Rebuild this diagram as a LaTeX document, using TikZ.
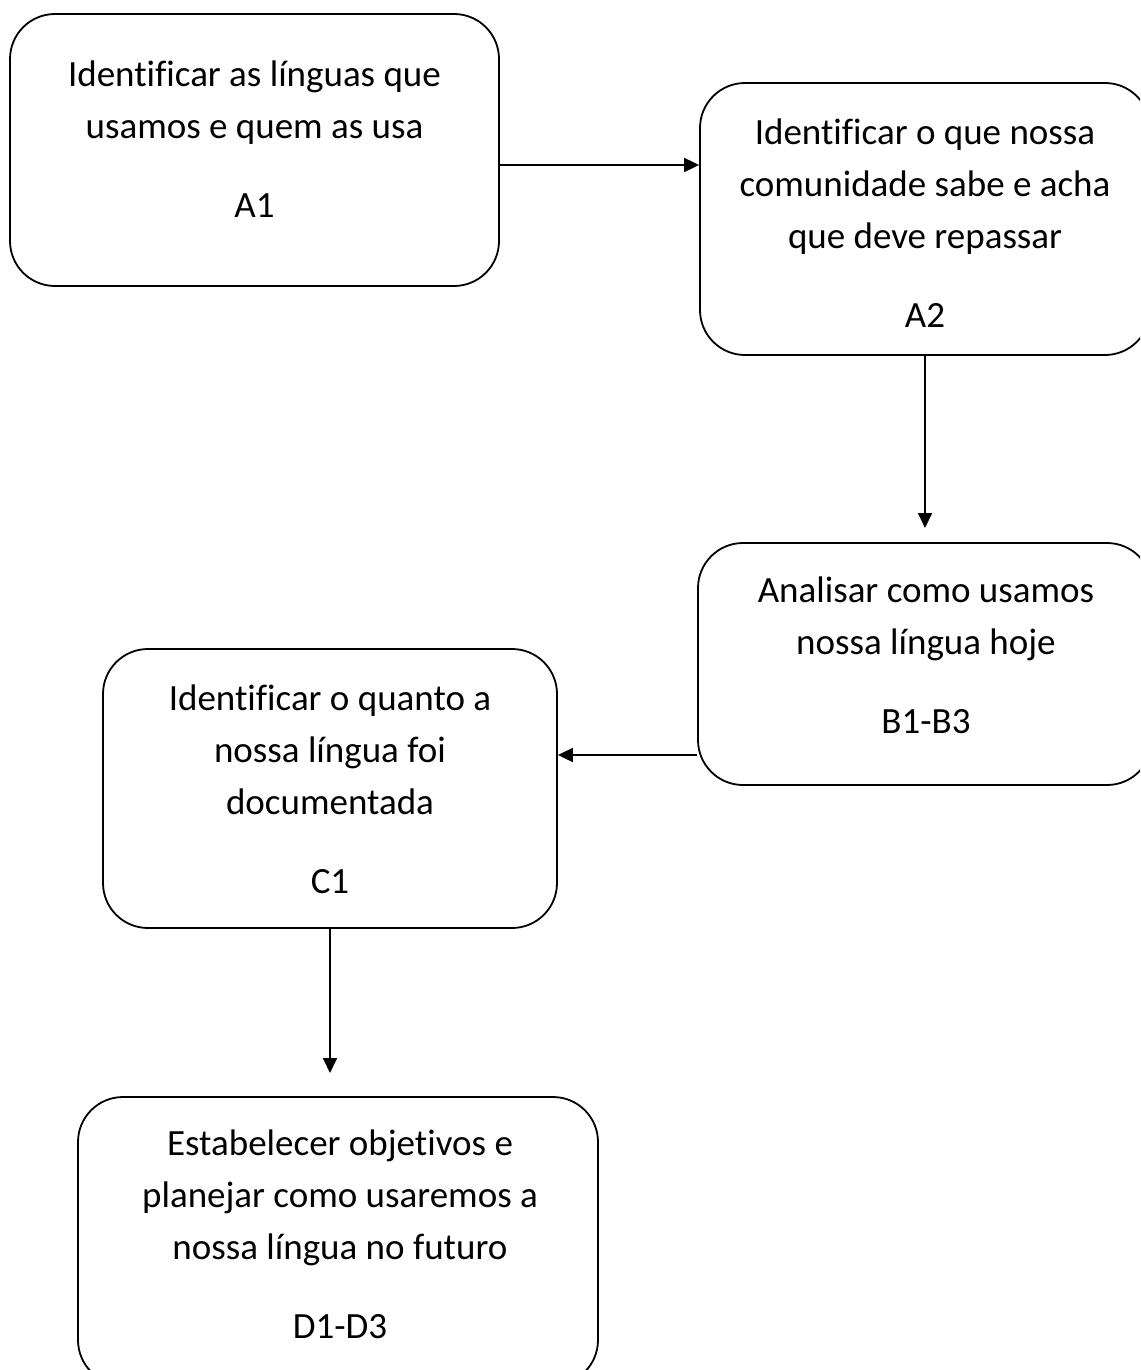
\documentclass[tikz,border=0pt]{standalone}
\usepackage{fontspec}
\setmainfont{Carlito}[Ligatures=NoCommon]
\usetikzlibrary{arrows.meta}
\begin{document}
\begin{tikzpicture}[x=1pt,y=-1pt,
  box/.style={draw,line width=1.8pt,rounded corners=45pt,inner sep=0pt},
  txt/.style={align=center,anchor=base,inner sep=0pt,font=\fontsize{37}{52}\selectfont},
  arr/.style={line width=1.8pt,-{Triangle[length=15pt,width=14pt]}}]
\useasboundingbox (0,0) rectangle (1140,1370);
\clip (0,0) rectangle (1140,1370);
\fill[white] (0,0) rectangle (1140,1370);
% boxes
\node[box,minimum width=489pt,minimum height=272pt] (A1) at (254.5,150) {};
\node[box,minimum width=450pt,minimum height=272pt] (A2) at (925,219) {};
\node[box,minimum width=454pt,minimum height=242pt] (B) at (925,664) {};
\node[box,minimum width=454pt,minimum height=279pt] (C1) at (330,788.5) {};
\node[box,minimum width=520pt,minimum height=288pt] (D) at (338,1241) {};
% texts (anchored at the baseline of the last line)
\node[txt] (tA1) at (254.5,217) {Identificar as línguas que\\usamos e quem as usa\\[27pt]A1};
\node[txt] (tA2) at (925,327) {Identificar o que nossa\\comunidade sabe e acha\\que deve repassar\\[27pt]A2};
\node[txt] (tB) at (926,733) {Analisar como usamos\\nossa língua hoje\\[27pt]B1-B3};
\node[txt] (tC1) at (330,893) {Identificar o quanto a\\nossa língua foi\\documentada\\[27pt]C1};
\node[txt] (tD) at (340,1338) {Estabelecer objetivos e\\planejar como usaremos a\\nossa língua no futuro\\[27pt]D1-D3};
% connectors
\coordinate (endB) at (925,528);
\coordinate (endD) at (330,1073);
\draw[arr] (A1.east |- 0,165) -- (A2.west |- 0,165);
\draw[arr] (A2.south) -- (endB);
\draw[arr] (B.west |- 0,755) -- (C1.east |- 0,755);
\draw[arr] (C1.south) -- (endD);
\end{tikzpicture}
\end{document}
